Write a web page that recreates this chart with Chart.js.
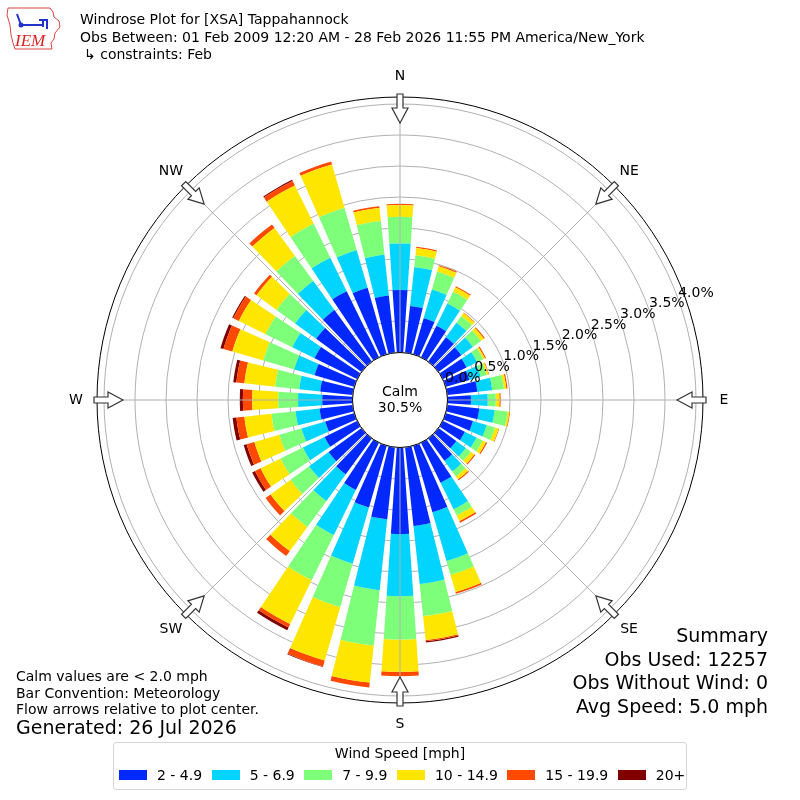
<!DOCTYPE html>
<html>
<head>
<meta charset="utf-8">
<script src="https://cdn.jsdelivr.net/npm/chart.js@4.4.1/dist/chart.umd.min.js"></script>
<style>
  body { margin: 0; background: #fff; }
  #wrap { position: relative; width: 800px; height: 800px; font-family: "DejaVu Sans", sans-serif; color: #000; }
  #rose { position: absolute; left: 0; top: 0; }
  .t { position: absolute; font-size: 14px; line-height: 16px; white-space: nowrap; }
  .big { font-size: 19px; line-height: 23.5px; }
  #summary { position: absolute; right: 32px; top: 624px; text-align: right; }
  #legend { position: absolute; left: 113px; top: 742px; width: 572px; height: 46px; border: 1px solid #d6d6d6; border-radius: 3px; }
  #legend .ttl { position: absolute; left: 0; right: 0; top: 2px; text-align: center; font-size: 14px; line-height: 16px; }
  #legend .row { position: absolute; left: 5px; top: 24px; width: 600px; display: flex; align-items: center; font-size: 14px; line-height: 16px; white-space: nowrap; }
  #legend .sw { display: inline-block; flex: none; width: 28px; height: 10px; margin-right: 10px; }
  #legend .it { display: flex; flex: none; align-items: center; margin-right: 9.5px; white-space: nowrap; }
</style>
</head>
<body>
<div id="wrap">
  <canvas id="rose" width="800" height="800"></canvas>

  <svg style="position:absolute;left:6px;top:5px" width="58" height="46" viewBox="0 0 58 46">
    <path d="M2 3 L44 3 L47 7 L48 12 L53 16 L54 22 L49 28 L48 34 L45 38 L46 44 L9 44 L7 38 L5 30 L4 20 L1 10 Z"
          fill="none" stroke="#d44" stroke-width="1"/>
    <path d="M11 9 L15 20 M15 20 L38 20 M33 15 L41 15 L41 24 M37 15 L37 22" stroke="#2233cc" stroke-width="2" fill="none"/>
    <circle cx="15" cy="20" r="2.5" fill="#2233cc"/>
    <text x="9" y="41" font-family="Liberation Serif" font-style="italic" font-size="17" fill="#d22">IEM</text>
  </svg>

  <div class="t" style="left:80px;top:11px">Windrose Plot for [XSA] Tappahannock</div>
  <div class="t" style="left:80px;top:29px">Obs Between: 01 Feb 2009 12:20 AM - 28 Feb 2026 11:55 PM America/New_York</div>
  <div class="t" style="left:84px;top:46px">↳ constraints: Feb</div>

  <div class="t" style="left:16px;top:668px">Calm values are &lt; 2.0 mph</div>
  <div class="t" style="left:16px;top:685px">Bar Convention: Meteorology</div>
  <div class="t" style="left:16px;top:701px">Flow arrows relative to plot center.</div>
  <div class="t big" style="left:16px;top:716px">Generated: 26 Jul 2026</div>

  <div id="summary" class="t big">
    <div>Summary</div>
    <div>Obs Used: 12257</div>
    <div>Obs Without Wind: 0</div>
    <div>Avg Speed: 5.0 mph</div>
  </div>

  <div id="legend">
    <div class="ttl">Wind Speed [mph]</div>
    <div class="row" id="legendRow"></div>
  </div>
</div>

<script>
// direction of each bar (degrees, where the wind blows from)
const directions = [0, 10, 20, 30, 40, 50, 60, 70, 80, 90, 100, 110, 120, 130, 140, 150, 160, 170,
    180, 190, 200, 210, 220, 230, 240, 250, 260, 270, 280, 290, 300, 310, 320, 330, 340, 350];

// frequency [%] per direction for each speed bin
const speed2to5 = [1.00, 0.75, 0.60, 0.56, 0.48, 0.45, 0.42, 0.39, 0.48, 0.37, 0.51, 0.45, 0.39, 0.35, 0.44, 0.71, 1.11, 1.27,
    1.39, 1.16, 1.03, 0.84, 0.71, 0.65, 0.58, 0.48, 0.53, 0.48, 0.52, 0.66, 0.76, 0.90, 1.02, 1.18, 1.11, 0.92];
const speed5to7 = [0.75, 0.63, 0.48, 0.40, 0.29, 0.23, 0.19, 0.19, 0.24, 0.27, 0.25, 0.23, 0.21, 0.19, 0.21, 0.48, 0.82, 0.94,
    1.00, 1.15, 0.94, 0.81, 0.53, 0.39, 0.39, 0.40, 0.39, 0.39, 0.34, 0.34, 0.40, 0.42, 0.58, 0.60, 0.63, 0.66];
const speed7to10 = [0.43, 0.19, 0.30, 0.21, 0.13, 0.16, 0.11, 0.10, 0.19, 0.13, 0.21, 0.14, 0.11, 0.10, 0.10, 0.11, 0.23, 0.52,
    0.70, 0.90, 0.73, 0.81, 0.52, 0.37, 0.40, 0.37, 0.39, 0.32, 0.39, 0.52, 0.48, 0.37, 0.50, 0.61, 0.71, 0.55];
const speed10to15 = [0.19, 0.12, 0.09, 0.08, 0.06, 0.06, 0.03, 0.03, 0.04, 0.06, 0.03, 0.06, 0.06, 0.07, 0.06, 0.10, 0.29, 0.39,
    0.52, 0.60, 0.90, 0.79, 0.48, 0.40, 0.36, 0.42, 0.44, 0.42, 0.50, 0.52, 0.48, 0.40, 0.56, 0.69, 0.73, 0.21];
const speed15to20 = [0.02, 0.02, 0.02, 0.02, 0.01, 0.02, 0.02, 0.01, 0.02, 0.02, 0.01, 0.01, 0.02, 0.02, 0.02, 0.03, 0.03, 0.02,
    0.07, 0.08, 0.10, 0.06, 0.10, 0.10, 0.10, 0.13, 0.13, 0.15, 0.13, 0.15, 0.10, 0.05, 0.07, 0.08, 0.05, 0.03];
const speed20plus = [0, 0, 0, 0, 0, 0, 0, 0, 0, 0, 0, 0, 0, 0, 0, 0, 0, 0.02,
    0, 0, 0.01, 0.05, 0, 0, 0.05, 0.05, 0.06, 0.05, 0.05, 0.05, 0.02, 0, 0, 0.02, 0, 0];

const binLabels = ["2 - 4.9", "5 - 6.9", "7 - 9.9", "10 - 14.9", "15 - 19.9", "20+"];
const radialTicks = [0, 0.5, 1.0, 1.5, 2.0, 2.5, 3.0, 3.5, 4.0];
const compass = ["N", "NE", "E", "SE", "S", "SW", "W", "NW"];
const calmText = ["Calm", "30.5%"];

const BIN_COLORS = ["#0028ff", "#00d4ff", "#7dff7a", "#ffe600", "#ff4800", "#800000"];
const BAR_FRACTION = 0.78;
const R_MIN = -48 / 62;
const R_MAX = 303 / 62 + R_MIN;

// polar area that stacks its datasets outward, with a gap between the petals
class WindroseController extends Chart.PolarAreaController {
    updateElements(arcs, start, count, mode) {
        const scale = this._cachedMeta.rScale;
        const sets = this.chart.data.datasets;
        const half = (Math.PI / this.chart.data.labels.length) * BAR_FRACTION;
        for (let i = start; i < start + count; i++) {
            let base = 0;
            for (let d = 0; d < this.index; d++) base += sets[d].data[i];
            const top = base + sets[this.index].data[i];
            const mid = scale.getIndexAngle(i) - Math.PI / 2;
            this.updateElement(arcs[i], i, {
                x: scale.xCenter,
                y: scale.yCenter,
                innerRadius: scale.getDistanceFromCenterForValue(base),
                outerRadius: scale.getDistanceFromCenterForValue(top),
                startAngle: mid - half,
                endAngle: mid + half,
                options: this.resolveDataElementOptions(i, mode),
            }, mode);
        }
    }
}
WindroseController.id = "windrose";
WindroseController.defaults = Chart.PolarAreaController.defaults;
WindroseController.overrides = { scales: { r: { type: "radialLinear" } } };
Chart.register(WindroseController);

const roseDecor = {
    id: "roseDecor",
    afterDraw(chart) {
        const s = chart.scales.r;
        const ctx = chart.ctx;
        const cx = s.xCenter, cy = s.yCenter;
        const outer = s.drawingArea;
        const calm = s.getDistanceFromCenterForValue(0);
        ctx.save();

        // spokes every 45 degrees
        ctx.strokeStyle = "#b0b0b0";
        ctx.lineWidth = 1;
        compass.forEach((_, k) => {
            const a = (k * Math.PI) / 4 - Math.PI / 2;
            ctx.beginPath();
            ctx.moveTo(cx, cy);
            ctx.lineTo(cx + outer * Math.cos(a), cy + outer * Math.sin(a));
            ctx.stroke();
        });

        // calm circle
        ctx.beginPath();
        ctx.arc(cx, cy, calm - 0.5, 0, Math.PI * 2);
        ctx.fillStyle = "#fff";
        ctx.fill();
        ctx.strokeStyle = "#000";
        ctx.lineWidth = 1;
        ctx.stroke();

        // frame
        ctx.beginPath();
        ctx.arc(cx, cy, outer, 0, Math.PI * 2);
        ctx.stroke();

        ctx.fillStyle = "#000";
        ctx.font = "14px 'DejaVu Sans'";
        ctx.textAlign = "center";
        ctx.textBaseline = "middle";
        ctx.fillText(calmText[0], cx, cy - 8);
        ctx.fillText(calmText[1], cx, cy + 8);

        // flow arrows and compass letters
        compass.forEach((name, k) => {
            const a = (k * Math.PI) / 4 - Math.PI / 2;
            const ux = Math.cos(a), uy = Math.sin(a);
            const vx = -uy, vy = ux;
            const pt = (r, w) => [cx + r * ux + w * vx, cy + r * uy + w * vy];
            const tip = outer - 26, neck = outer - 11, tail = outer + 3;
            const poly = [pt(tip, 0), pt(neck, 8), pt(neck, 3), pt(tail, 3), pt(tail, -3), pt(neck, -3), pt(neck, -8)];
            ctx.beginPath();
            poly.forEach((p, j) => (j ? ctx.lineTo(p[0], p[1]) : ctx.moveTo(p[0], p[1])));
            ctx.closePath();
            ctx.fillStyle = "#fff";
            ctx.fill();
            ctx.strokeStyle = "#333";
            ctx.lineWidth = 1.2;
            ctx.stroke();
            ctx.fillStyle = "#000";
            ctx.fillText(name, cx + (outer + 21) * ux, cy + (outer + 21) * uy);
        });

        // radial tick labels
        const la = (-20 * Math.PI) / 180;
        ctx.textAlign = "left";
        ctx.textBaseline = "alphabetic";
        radialTicks.forEach((v) => {
            const r = s.getDistanceFromCenterForValue(v);
            ctx.fillText(v.toFixed(1) + "%", cx + r * Math.cos(la), cy + r * Math.sin(la) - 2);
        });
        ctx.restore();
    },
};

Chart.defaults.font.family = "'DejaVu Sans'";

const bins = [speed2to5, speed5to7, speed7to10, speed10to15, speed15to20, speed20plus];

new Chart(document.getElementById("rose"), {
    type: "windrose",
    data: {
        labels: directions,
        datasets: bins.map((values, k) => ({
            label: binLabels[k],
            data: values,
            backgroundColor: BIN_COLORS[k],
            borderWidth: 0,
        })),
    },
    options: {
        responsive: false,
        animation: false,
        layout: { padding: 97 },
        plugins: { legend: { display: false }, tooltip: { enabled: false } },
        scales: {
            r: {
                type: "radialLinear",
                min: R_MIN,
                max: R_MAX,
                startAngle: 0,
                z: 1,
                angleLines: { display: false },
                pointLabels: { display: false },
                ticks: { display: false },
                grid: { circular: true, color: "#b0b0b0", lineWidth: 1 },
                afterBuildTicks: (scale) => {
                    scale.ticks = radialTicks.map((v) => ({ value: v }));
                },
            },
        },
    },
    plugins: [roseDecor],
});

const row = document.getElementById("legendRow");
binLabels.forEach((name, k) => {
    const it = document.createElement("span");
    it.className = "it";
    it.innerHTML = '<span class="sw" style="background:' + BIN_COLORS[k] + '"></span>' + name;
    row.appendChild(it);
});
</script>
</body>
</html>
